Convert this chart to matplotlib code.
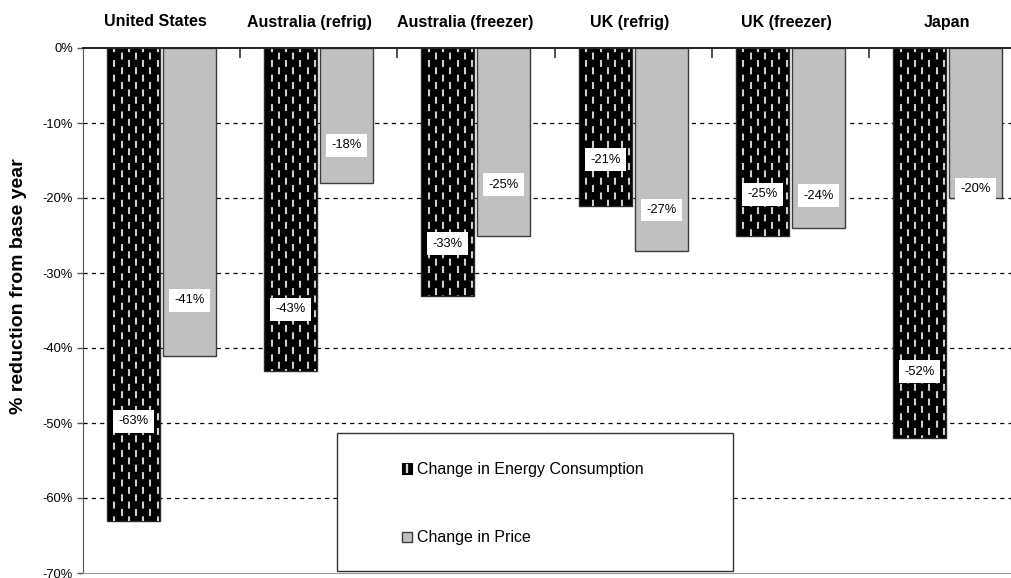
import matplotlib
matplotlib.use("Agg")
import matplotlib.pyplot as plt
from matplotlib.patches import Rectangle, Patch
from matplotlib.legend_handler import HandlerPatch
from matplotlib.lines import Line2D
import numpy as np

plt.rcParams['font.family'] = ['Liberation Sans', 'DejaVu Sans']
plt.rcParams['lines.scale_dashes'] = False

# --- data -------------------------------------------------------------
categories = ["United States", "Australia (refrig)", "Australia (freezer)",
              "UK (refrig)", "UK (freezer)", "Japan"]
energy_change = [-63, -43, -33, -21, -25, -52]   # % change in energy consumption
price_change = [-41, -18, -25, -27, -24, -20]    # % change in price
y_ticks = [0, -10, -20, -30, -40, -50, -60, -70]

# where each value label sits, as a fraction of its bar length
energy_label_frac = [0.79, 0.81, 0.79, 0.71, 0.78, 0.83]
price_label_frac = [0.82, 0.72, 0.73, 0.80, 0.82, 0.94]
# horizontal nudge (pixels) of each category heading
heading_dx = [-5.6, -9.6, -10.9, -4.0, -4.4, -0.6]

# --- figure -----------------------------------------------------------
W, H = 1011, 578
fig = plt.figure(figsize=(W / 100, H / 100), dpi=100)
ax_left_px, cat_px = 82.75, 157.25
ax_top_px, ax_bot_px = 48, 573
ax = fig.add_axes([ax_left_px / W, 1 - ax_bot_px / H,
                   6 * cat_px / W, (ax_bot_px - ax_top_px) / H])

x = np.arange(len(categories))
bw = 0.337
off = 0.178

# gridlines
for t in y_ticks[1:-1]:
    ax.axhline(t, color='black', lw=0.9, linestyle=(0, (3, 3)), zorder=0.5)

energy_bars = ax.bar(x - off, energy_change, width=bw, color='black',
                     edgecolor='#2a2a2a', linewidth=1.0, zorder=2)
price_bars = ax.bar(x + off, price_change, width=bw, color='#c0c0c0',
                    edgecolor='#3c3c3c', linewidth=1.0, zorder=2)

ax.set_xlim(-0.5, 5.5)
ax.set_ylim(-70, 0)

# dashed vertical texture inside the energy bars
col_step = 7.2 / cat_px          # spacing of the dash columns, data units
dash_on, dash_off = 5.0, 5.6      # points
for bar in energy_bars:
    x0 = bar.get_x()
    w = bar.get_width()
    cols = np.arange(x0 + 7.5 / cat_px, x0 + w, col_step)
    for i, cx in enumerate(cols):
        offset = 0 if i % 2 == 0 else (dash_on + dash_off) / 2
        ln = Line2D([cx, cx], [0, bar.get_height()], color='#cfcfcf',
                    lw=1.5, linestyle=(offset + 2, (dash_on, dash_off)),
                    zorder=2.5)
        ln.set_dash_capstyle('butt')
        ax.add_line(ln)
        ln.set_clip_path(bar)

# value labels
label_kw = dict(ha='center', va='center', fontsize=9.3, zorder=4,
                bbox=dict(boxstyle='square,pad=0.42', fc='white', ec='none'))
for bar, v, f in zip(energy_bars, energy_change, energy_label_frac):
    ax.text(bar.get_x() + bar.get_width() / 2, v * f, f"{v}%", **label_kw)
for bar, v, f in zip(price_bars, price_change, price_label_frac):
    ax.text(bar.get_x() + bar.get_width() / 2, v * f, f"{v}%", **label_kw)

# y axis
ax.set_yticks(y_ticks)
ax.set_yticklabels([f"{t}%" for t in y_ticks], fontsize=9.3)
ax.tick_params(axis='y', direction='out', length=4, width=1, color='#555555', pad=3)
fig.text(19 / W, 1 - 286 / H, "% reduction from base year", rotation=90,
         ha='center', va='center', fontsize=14, fontweight='bold')

# x axis on top: boundary ticks pointing down into the plot
ax.xaxis.set_ticks_position('top')
ax.set_xticks([])
ax.set_xticks(np.arange(len(categories) - 1) + 0.5, minor=True)
ax.tick_params(axis='x', which='minor', direction='in', length=7, width=1.2,
               color='#333333')

# category headings above the plot
head_y = (ax_bot_px - 22) / (ax_bot_px - ax_top_px)
for xi, name, dx in zip(x, categories, heading_dx):
    ax.text(xi + dx / cat_px, head_y, name, transform=ax.get_xaxis_transform(),
            ha='center', va='center', fontsize=11.5, fontweight='bold')

ax.spines['right'].set_visible(False)
ax.spines['top'].set_color('#222222')
ax.spines['top'].set_linewidth(1.4)
ax.spines['top'].set_zorder(3)
ax.spines['left'].set_color('#555555')
ax.spines['bottom'].set_color('#999999')


# legend
class EnergyHandler(HandlerPatch):
    def create_artists(self, legend, orig_handle, xdescent, ydescent,
                       width, height, fontsize, trans):
        r = Rectangle((-xdescent, -ydescent), width, height, fc='black',
                      ec='black', lw=0.8, transform=trans)
        cx = -xdescent + width / 2
        ln = Line2D([cx, cx], [-ydescent + height * 0.2, -ydescent + height * 0.8],
                    color='#d8d8d8', lw=1.6, transform=trans)
        return [r, ln]


box = Rectangle((337 / W, 1 - 571 / H), (733 - 337) / W, (571 - 433) / H,
                transform=fig.transFigure, fc='white', ec='#333333', lw=1.0,
                zorder=5)
fig.patches.append(box)

h_energy = Patch(fc='black', ec='black', label="Change in Energy Consumption")
h_price = Patch(fc='#c0c0c0', ec='#3c3c3c', label="Change in Price")
leg = fig.legend(handles=[h_energy, h_price], loc='upper left',
                 bbox_to_anchor=(394 / W, 1 - 454 / H), frameon=False,
                 fontsize=11.5, handlelength=0.65, handleheight=0.65,
                 handletextpad=0.3, labelspacing=3.35, borderpad=0,
                 handler_map={h_energy: EnergyHandler()})
leg.set_zorder(6)

fig.savefig("out.png", dpi=100)
